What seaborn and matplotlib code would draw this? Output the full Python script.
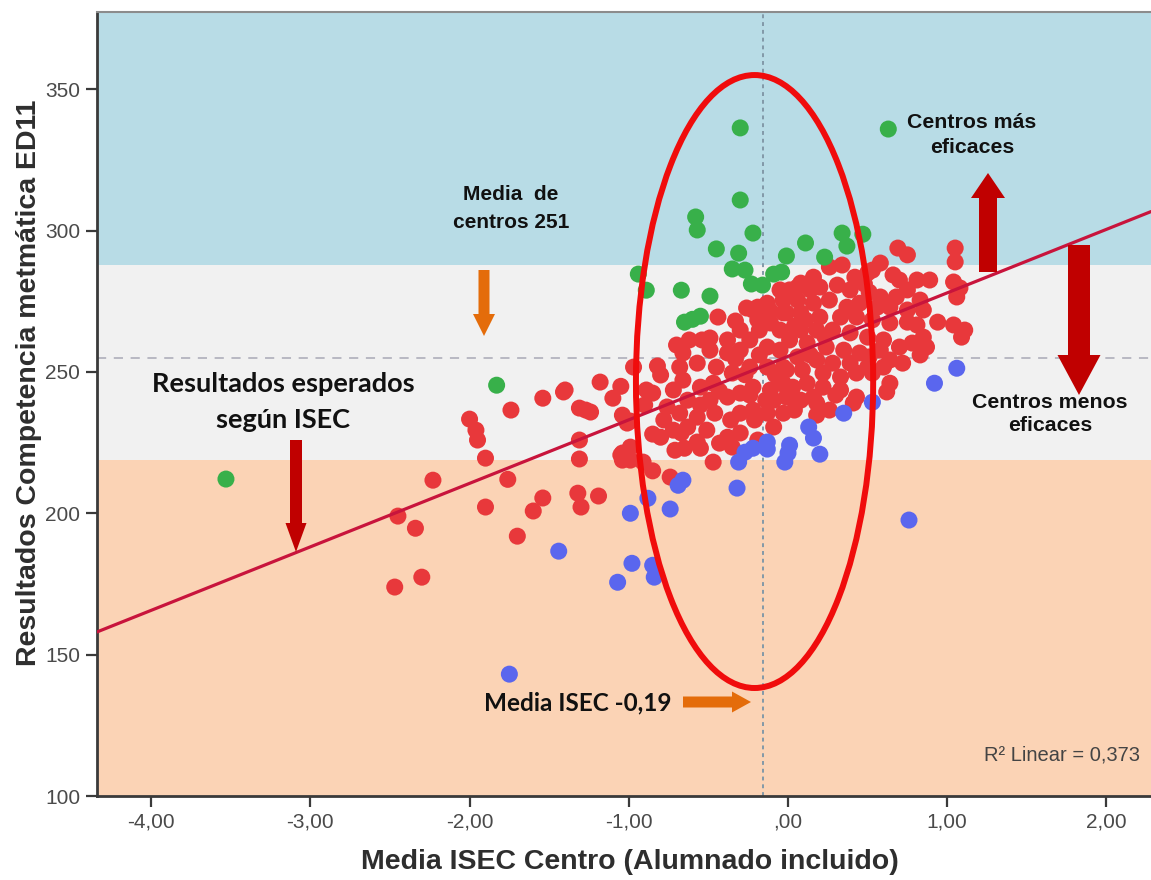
import matplotlib
matplotlib.use("Agg")
import matplotlib.pyplot as plt
import numpy as np
import pandas as pd
import seaborn as sns
from matplotlib.patches import Ellipse

# ---------------------------------------------------------------------------
# Data: mean ISEC of each school vs. its mathematics score (ED11)
# ---------------------------------------------------------------------------
# Schools whose results match what their ISEC predicts
red_x = [-2.47, -2.30, -2.34, -2.45, -2.23, -2.00, -1.96, -1.95, -1.90, -1.90,
         -1.76, -1.70, -1.74, -1.60, -1.54, -1.54, -1.41, -1.31, -1.27, -1.24,
         -1.31, -1.31, -1.32, -1.30, -1.19, -1.18, -1.05, -1.10, -1.04, -1.01,
         -1.05, -1.04, -0.99, -1.40, -0.99, -0.97, -0.82, -0.85, -0.99, -1.04,
         -0.91, -0.71, -0.80, -0.67, -0.57, -0.47, -0.85, -0.74,
         -0.44, -0.70, -0.66, -0.57, -0.68, -0.54, -0.49, -0.38, -0.26, -0.19,
         -0.13, -0.05, -0.66, -0.72, -0.85, -0.89, -0.55, -0.47, -0.49, -0.38,
         -0.63, -0.76, -0.68, -0.57, -0.46, -0.36, -0.30, -0.22, -0.13, -0.09,
         -0.38, -0.30, -0.19, -0.09, -0.03, -0.78, -0.72, -0.63, -0.51, -0.43,
         -0.35, -0.55, -0.65, -0.38, -0.30, -0.24, -0.18, -0.11, -0.03, -0.05,
         -0.30, -0.19, -0.13, -0.05, -0.24, -0.13, -0.03, -0.35, -0.22, -0.11,
         -0.01, -0.30, -0.45, -0.49,
         0.69, 0.75, 1.05, 1.05, 0.26, 0.34, 0.58, 0.42, 0.50, 0.66,
         0.70, 0.81, 0.89, 1.04, 1.08, 0.16, 0.08, 0.01, -0.03, 0.06,
         0.20, 0.31, 0.39, 0.51, 0.58, 0.68, 0.75, 0.83, 1.06, 0.85,
         0.75, 0.64, 0.56, 0.45, 0.37, 0.26, 0.16, 0.08, -0.01, 0.20,
         0.33, 0.43, 0.53, 0.64, 0.75, 0.81, 0.94, 1.04, 1.09, 1.11,
         0.85, 0.78, 0.83, 0.87, 0.70, 0.60, 0.50, 0.39, 0.28, 0.18,
         0.08, 0.01, 0.12, 0.24, 0.35, 0.45, 0.58, 0.64, 0.72, 0.60,
         0.50, 0.39, 0.28, 0.18, 0.06, -0.01, 0.09, 0.22, 0.33, 0.43,
         0.53, 0.64, 0.62, 0.43, 0.41, 0.33, 0.22, 0.12, 0.03, -0.03,
         0.08, -0.01, 0.18, 0.18, 0.16,
         -0.22, 0.06, 0.53,
         -0.33, -0.27, -0.18, -0.08, -0.14, -0.21, 0.04, 0.14, 0.23, 0.11,
         0.48, 0.51, 0.30, 0.26, -0.11, -0.33, 0.04, 0.14, -0.24, -0.43,
         -0.62, -0.80, -0.90, -0.55]
red_y = [173.9, 177.4, 194.7, 199.0, 211.7, 233.3, 229.4, 225.9, 219.5, 202.2,
         212.0, 191.9, 236.5, 200.8, 205.4, 240.7, 242.9, 237.2, 236.5, 235.8,
         225.9, 219.2, 207.1, 202.2, 206.1, 246.4, 244.9, 240.7, 234.7, 231.9,
         220.6, 218.8, 223.4, 243.6, 232.6, 251.7, 252.1, 228.0, 218.8, 221.3,
         218.1, 222.3, 226.9, 228.4, 225.2, 218.1, 215.0, 212.8,
         269.4, 259.5, 256.7, 253.1, 251.7, 261.3, 262.0, 261.3, 272.6, 272.9,
         274.3, 279.0, 247.1, 243.6, 242.5, 243.6, 244.6, 246.0, 240.0, 241.1,
         240.0, 237.6, 235.4, 234.0, 235.4, 233.0, 235.4, 236.5, 235.4, 240.0,
         226.9, 228.4, 225.9, 230.5, 235.4, 233.0, 229.4, 230.5, 229.4, 224.8,
         223.4, 223.0, 223.0, 256.7, 257.7, 261.3, 264.8, 267.3, 270.9, 264.8,
         264.8, 268.4, 258.8, 257.7, 251.7, 251.7, 251.7, 249.6, 244.6, 243.6,
         244.6, 242.5, 251.7, 257.7,
         293.8, 291.4, 293.8, 288.9, 287.1, 287.8, 288.5, 283.5, 285.0, 284.3,
         282.5, 282.5, 282.5, 281.8, 279.7, 283.5, 281.4, 279.0, 275.4, 275.4,
         280.0, 280.7, 279.0, 278.2, 276.5, 276.5, 279.0, 275.4, 276.5, 271.9,
         271.9, 272.9, 272.9, 274.3, 272.9, 275.4, 274.3, 270.9, 270.9, 269.4,
         269.4, 269.4, 268.4, 267.3, 267.6, 266.6, 267.6, 266.6, 262.3, 264.8,
         262.3, 260.2, 256.0, 258.8, 258.8, 261.3, 262.3, 263.8, 264.8, 264.8,
         264.8, 261.3, 260.2, 258.8, 257.7, 256.7, 257.7, 254.2, 253.1, 251.7,
         251.7, 253.1, 253.1, 254.2, 255.3, 250.7, 250.7, 249.6, 248.2, 249.6,
         249.6, 246.0, 242.9, 241.1, 239.0, 243.6, 244.6, 246.0, 244.6, 246.0,
         240.0, 241.1, 239.0, 234.7, 241.1,
         271.9, 280.0, 286.0,
         254.6, 249.0, 256.0, 249.0, 240.0, 233.0, 236.5, 256.0, 262.7, 268.4,
         281.1, 255.3, 241.8, 236.5, 271.5, 268.0, 266.2, 279.0, 241.8, 243.2,
         261.3, 248.9, 238.3, 238.3]

# Schools above the expected band (more effective)
green_x = [-3.53, -1.83, -0.30, 0.63, -0.30, -0.58, -0.57, -0.22, -0.45, -0.31,
           -0.35, -0.27, -0.23, -0.16, -0.09, -0.04, -0.01, 0.11, 0.23, 0.34,
           0.37, 0.47, -0.94, -0.89, -0.67, -0.49, -0.65, -0.55, -0.60]
green_y = [212.1, 245.3, 336.3, 335.9, 310.8, 304.8, 300.2, 299.1, 293.5, 292.0,
           286.4, 286.0, 281.1, 280.7, 284.6, 285.3, 291.0, 295.6, 290.6, 299.1,
           294.5, 298.7, 284.6, 278.9, 278.9, 276.8, 267.6, 269.7, 268.6]

# Schools below the expected band (less effective)
blue_x = [1.06, 0.92, 0.53, 0.35, 0.13, 0.16, 0.20, 0.01, 0.00, -0.02,
          -0.13, -0.13, -0.22, -0.27, -0.31, -0.32, -0.69, -0.66, -0.88, -0.99,
          -0.74, -1.44, -0.98, -0.85, -0.84, -1.07, 0.76, -1.75]
blue_y = [251.3, 246.0, 239.3, 235.4, 230.5, 226.6, 220.9, 224.1, 221.3, 218.1,
          225.2, 222.7, 223.0, 221.6, 218.1, 208.9, 209.9, 211.7, 205.3, 200.0,
          201.5, 186.6, 182.3, 181.6, 177.4, 175.6, 197.6, 143.1]

# Linear fit reported by the model (R² = 0,373)
fit_intercept = 255.5
fit_slope = 22.46

# Reference values
mean_score = 255.0
mean_isec = -0.155
band_edges = [100, 219.0, 287.8, 380]
band_colors = ["#fbd3b5", "#f1f1f1", "#b8dce6"]

# Highlight region around the average ISEC
ell_center = (-0.21, 246.6)
ell_half_width = 0.745
ell_half_height = 108.4

x_ticks = [-4, -3, -2, -1, 0, 1, 2]
x_tick_labels = ["-4,00", "-3,00", "-2,00", "-1,00", ",00", "1,00", "2,00"]
y_ticks = [100, 150, 200, 250, 300, 350]
x_limits = (-4.34, 2.28)
y_limits = (100, 377.3)

# ---------------------------------------------------------------------------
df = pd.concat([
    pd.DataFrame({"isec": red_x, "score": red_y, "grupo": "esperado"}),
    pd.DataFrame({"isec": green_x, "score": green_y, "grupo": "más eficaz"}),
    pd.DataFrame({"isec": blue_x, "score": blue_y, "grupo": "menos eficaz"}),
], ignore_index=True)
palette = {"esperado": "#e8383b", "más eficaz": "#38b04a", "menos eficaz": "#5a66ee"}

sns.set_style("white")
plt.rcParams["font.family"] = ["Liberation Sans", "DejaVu Sans"]

W, H = 1151, 880
fig = plt.figure(figsize=(W / 100, H / 100), dpi=100)
ax = fig.add_axes([97 / W, 84 / H, 1054 / W, 784 / H])

# background bands
for lo, hi, c in zip(band_edges[:-1], band_edges[1:], band_colors):
    ax.axhspan(lo, hi, color=c, lw=0, zorder=0)

ax.axhline(mean_score, color="#a8a8b6", lw=1.1, ls=(0, (6, 5)), zorder=1)
ax.axvline(mean_isec, color="#8299a8", lw=1.4, ls=(0, (2, 2)), zorder=1)

sns.scatterplot(data=df, x="isec", y="score", hue="grupo", palette=palette,
                s=150, linewidth=0, edgecolor="none", legend=False, ax=ax,
                zorder=3)

ax.axline((0, fit_intercept), slope=fit_slope, color="#c8143c", lw=2.3, zorder=4)

ax.add_patch(Ellipse(ell_center, 2 * ell_half_width, 2 * ell_half_height,
                     fill=False, ec="#f00c0c", lw=4.3, zorder=5))

ax.set_xlim(*x_limits)
ax.set_ylim(*y_limits)
ax.set_xticks(x_ticks)
ax.set_xticklabels(x_tick_labels)
ax.set_yticks(y_ticks)

ax.tick_params(bottom=True, left=True, direction="out", length=8, width=1.6,
               color="#3a3a3a", labelcolor="#4a4a4a", labelsize=15, pad=4)
for side in ("left", "bottom"):
    ax.spines[side].set_color("#3a3a3a")
    ax.spines[side].set_linewidth(2)
ax.spines["top"].set_color("#8c8c8c")
ax.spines["top"].set_linewidth(1.5)
ax.spines["right"].set_visible(False)

ax.set_xlabel("Media ISEC Centro (Alumnado incluido)", fontsize=20.5,
              fontweight="bold", color="#2e2e2e")
ax.set_ylabel("Resultados Competencia metmática ED11", fontsize=20.5,
              fontweight="bold", color="#2e2e2e")
ax.xaxis.set_label_coords(0.506, -0.068)
ax.yaxis.set_label_coords(-0.052, 0.527)


def fx(px):
    return (px - 97) / 1054


def fy(py):
    return (796 - py) / 784


def arrow(tail, tip, color, tail_w, head_w, head_l):
    style = f"simple,head_length={head_l},head_width={head_w},tail_width={tail_w}"
    ax.annotate("", xy=(fx(tip[0]), fy(tip[1])), xytext=(fx(tail[0]), fy(tail[1])),
                xycoords="axes fraction", textcoords="axes fraction",
                arrowprops=dict(arrowstyle=style, color=color, lw=0,
                                shrinkA=0, shrinkB=0, mutation_scale=0.72),
                zorder=6)


dark_red = "#c00000"
orange = "#e46c0a"
arrow((484, 270), (484, 336), orange, 11, 22, 22)
arrow((296, 440), (296, 552), dark_red, 12, 21, 29)
arrow((988, 272), (988, 173), dark_red, 18, 34, 25)
arrow((1079, 245), (1079, 395), dark_red, 22, 43, 40)
arrow((683, 702), (751, 702), orange, 11, 21, 19)

arial_bold = dict(family=["Liberation Sans", "DejaVu Sans"], fontweight="bold",
                  color="#111111", ha="center", va="center",
                  transform=ax.transAxes, zorder=7)
calibri_bold = dict(family=["Lato", "DejaVu Sans"], fontweight="bold",
                    color="#111111", ha="center", va="center",
                    transform=ax.transAxes, zorder=7)

ax.text(fx(511), fy(208), "Media  de\ncentros 251", fontsize=15,
        linespacing=1.6, **arial_bold)
ax.text(fx(283), fy(402), "Resultados esperados\nsegún ISEC", fontsize=19.5,
        linespacing=1.62, **calibri_bold)
ax.text(fx(972), fy(135), "Centros más\neficaces", fontsize=15.3,
        linespacing=1.45, **arial_bold)
ax.text(fx(1050), fy(414), "Centros menos\neficaces", fontsize=15.3,
        linespacing=1.3, **arial_bold)
ax.text(fx(578), fy(703), "Media ISEC -0,19", fontsize=17.5, **calibri_bold)
ax.text(fx(1140), fy(755), "R² Linear = 0,373", fontsize=14.5, color="#444444",
        ha="right", va="center", transform=ax.transAxes, zorder=7)

fig.savefig("out.png", dpi=100)
